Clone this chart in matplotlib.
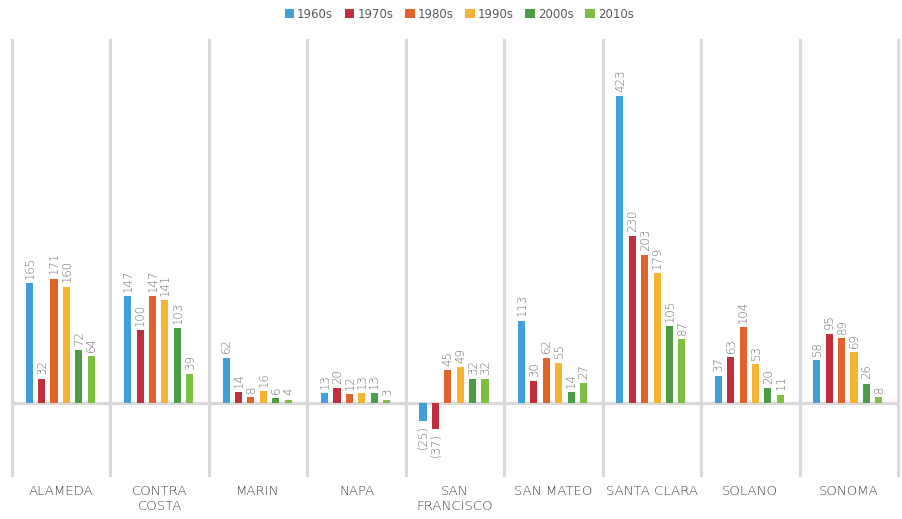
import matplotlib
matplotlib.use("Agg")
import matplotlib.pyplot as plt
import numpy as np

counties = ["ALAMEDA", "CONTRA\nCOSTA", "MARIN", "NAPA", "SAN\nFRANCISCO",
            "SAN MATEO", "SANTA CLARA", "SOLANO", "SONOMA"]
decades = ["1960s", "1970s", "1980s", "1990s", "2000s", "2010s"]
v1960s = [165, 147, 62, 13, -25, 113, 423, 37, 58]
v1970s = [32, 100, 14, 20, -37, 30, 230, 63, 95]
v1980s = [171, 147, 8, 12, 45, 62, 203, 104, 89]
v1990s = [160, 141, 16, 13, 49, 55, 179, 53, 69]
v2000s = [72, 103, 6, 13, 32, 14, 105, 20, 26]
v2010s = [64, 39, 4, 3, 32, 27, 87, 11, 8]
series = [v1960s, v1970s, v1980s, v1990s, v2000s, v2010s]
colors = ["#41A0DB", "#C0303C", "#E2622C", "#F6B233", "#4C9B45", "#7DBE43"]

fig = plt.figure(figsize=(9.02, 5.19), dpi=100)
ax = fig.add_axes([12/902, 44/519, 886/902, 435/519])
ax.set_xlim(-0.5, len(counties) - 0.5)
ax.set_ylim(-100, 500)

grid_c = "#D9D9D9"
for i in range(len(counties) + 1):
    ax.axvline(i - 0.5, color=grid_c, lw=2.3, zorder=1, clip_on=False)
ax.axhline(0, color=grid_c, lw=2.3, zorder=1, clip_on=False)

x = np.arange(len(counties))
slot = 0.126
bw = 0.072
for j, (vals, c, lab) in enumerate(zip(series, colors, decades)):
    xs = x + (j - 2.5) * slot - 0.01
    ax.bar(xs, vals, width=bw, color=c, label=lab, zorder=3)
    for xi, v in zip(xs, vals):
        txt = f"({abs(v)})" if v < 0 else f"{v}"
        if v >= 0:
            ax.annotate(txt, (xi, v), xytext=(0, 3), textcoords="offset points",
                        rotation=90, ha="center", va="bottom", fontsize=8.5,
                        color="#6E6E6E", fontweight="light")
        else:
            ax.annotate(txt, (xi, v), xytext=(0, -3), textcoords="offset points",
                        rotation=90, ha="center", va="top", fontsize=8.5,
                        color="#6E6E6E", fontweight="light")

for s in ax.spines.values():
    s.set_visible(False)
ax.set_yticks([])
ax.set_xticks(x)
ax.set_xticklabels(counties, fontsize=9.5, color="#404040", linespacing=1.35,
                   fontweight="light")
ax.tick_params(axis="x", length=0, pad=7)

fig.legend(loc="upper center", bbox_to_anchor=(0.509, 1.005), ncol=6, frameon=False,
           fontsize=8.5, handlelength=0.8, handleheight=0.8, handletextpad=0.25,
           columnspacing=1.0, labelcolor="#595959")

fig.savefig("out.png", dpi=100)
